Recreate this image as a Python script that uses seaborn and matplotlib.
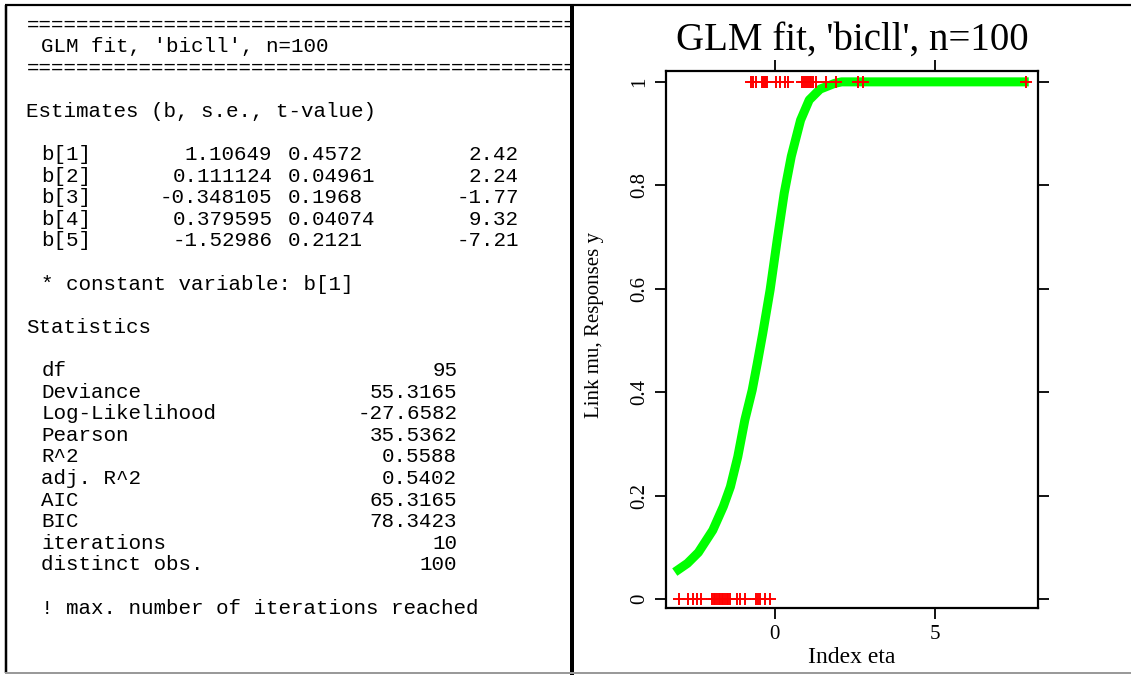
import matplotlib
matplotlib.use("Agg")
import matplotlib.pyplot as plt
import seaborn as sns
from matplotlib.lines import Line2D

# ---------------- data ----------------
title = "GLM fit, 'bicll', n=100"

# fitted curve (index eta -> mu)
curve_eta = [-3.00, -2.72, -2.38, -1.93, -1.60, -1.38, -1.15, -0.93, -0.70, -0.54,
             -0.37, -0.14, 0.08, 0.30, 0.52, 0.81, 1.08, 1.42, 1.87, 2.09, 7.79]
curve_mu = [0.057, 0.069, 0.090, 0.133, 0.179, 0.217, 0.275, 0.346, 0.404, 0.456,
            0.514, 0.598, 0.694, 0.785, 0.856, 0.926, 0.965, 0.986, 0.997, 1.000, 1.000]

# observed responses (eta positions of y=1 and y=0)
obs_eta_y1 = [-0.73, -0.66, -0.57, -0.40, -0.37, -0.34, -0.31, -0.28, -0.25, 0.03,
              0.16, 0.31, 0.42, 0.86, 0.91, 0.99, 1.04, 1.09, 1.15, 1.20, 1.30,
              1.61, 1.91, 2.60, 2.76, 7.83]
obs_eta_y0 = [-2.97, -2.71, -2.55, -2.43, -2.29, -1.95, -1.90, -1.85, -1.80, -1.75,
              -1.70, -1.65, -1.60, -1.55, -1.50, -1.45, -1.40, -1.18, -1.09, -0.94,
              -0.59, -0.53, -0.47, -0.31, -0.13]

x_ticks = [0, 5]
y_ticks = [0, 0.2, 0.4, 0.6, 0.8, 1]
y_ticklabels = ["0", "0.2", "0.4", "0.6", "0.8", "1"]
x_label = "Index eta"
y_label = "Link mu, Responses y"

coef_names = ["b[1]", "b[2]", "b[3]", "b[4]", "b[5]"]
coef_est = ["1.10649", "0.111124", "-0.348105", "0.379595", "-1.52986"]
coef_se = ["0.4572", "0.04961", "0.1968", "0.04074", "0.2121"]
coef_t = ["2.42", "2.24", "-1.77", "9.32", "-7.21"]

stat_names = ["df", "Deviance", "Log-Likelihood", "Pearson", "R^2", "adj. R^2",
              "AIC", "BIC", "iterations", "distinct obs."]
stat_values = ["95", "55.3165", "-27.6582", "35.5362", "0.5588", "0.5402",
               "65.3165", "78.3423", "10", "100"]

sentences = {
    1: (1, title),
    4: (0, "Estimates (b, s.e., t-value)"),
    12: (1, "* constant variable: b[1]"),
    14: (0, "Statistics"),
    27: (1, "! max. number of iterations reached"),
}

# ---------------- figure ----------------
W, H = 1131, 675
plt.rcParams["font.family"] = ["Liberation Serif", "DejaVu Serif"]
fig = plt.figure(figsize=(W / 100, H / 100), dpi=100)
fig.patch.set_facecolor("white")

# ---- left text panel ----
ax_t = fig.add_axes([0, 0, 570 / W, 1])
ax_t.set_xlim(0, 570)
ax_t.set_ylim(H, 0)
ax_t.axis("off")
X0, CW = 26.0, 15.4
MONO = dict(family="Liberation Mono", fontsize=15, va="baseline", clip_on=True)


def base(k):
    return 25 + 21.6 * k + 5.5


def col(c):
    return X0 + c * CW


for k in (0, 2):
    ax_t.text(col(0) + 1, base(k), "=" * 46, ha="left", **MONO)
for k, (c, s) in sentences.items():
    ax_t.text(col(c), base(k), s, ha="left", **MONO)
for i in range(len(coef_names)):
    k = 6 + i
    ax_t.text(col(1), base(k), coef_names[i], ha="left", **MONO)
    ax_t.text(col(16), base(k), coef_est[i], ha="right", **MONO)
    ax_t.text(col(17), base(k), coef_se[i], ha="left", **MONO)
    ax_t.text(col(32), base(k), coef_t[i], ha="right", **MONO)
for i in range(len(stat_names)):
    k = 16 + i
    ax_t.text(col(1), base(k), stat_names[i], ha="left", **MONO)
    ax_t.text(col(28), base(k), stat_values[i], ha="right", **MONO)


# ---- frame lines ----
def fline(x0, y0, x1, y1, lw, color):
    fig.add_artist(Line2D([x0 / W, x1 / W], [1 - y0 / H, 1 - y1 / H],
                          transform=fig.transFigure, lw=lw * 0.72, color=color,
                          solid_capstyle="butt"))


fline(5, 5, W, 5, 2.2, "black")
fline(6, 5, 6, 673, 2.5, "black")
fline(571.5, 5, 571.5, 675, 4, "black")
fline(5, 672.5, W, 672.5, 2, "#9a9a9a")

# ---- plot panel ----
ax = fig.add_axes([666 / W, (H - 608) / H, (1038 - 666) / W, (608 - 71) / H])
sns.lineplot(x=curve_eta, y=curve_mu, color="#00ff00", linewidth=6.5, ax=ax,
             sort=True, zorder=2)
obs_x = obs_eta_y1 + obs_eta_y0
obs_y = [1] * len(obs_eta_y1) + [0] * len(obs_eta_y0)
sns.scatterplot(x=obs_x, y=obs_y, marker="+", color="#ff0000", s=75,
                linewidth=1.4, ax=ax, zorder=3)

ax.set_xlim(-3.39, 8.22)
ax.set_ylim(-0.0174, 1.021)
ax.set_xticks(x_ticks)
ax.set_xticklabels([str(t) for t in x_ticks])
ax.set_yticks(y_ticks)
ax.set_yticklabels(y_ticklabels, rotation=90, va="center", ha="right")
ax.tick_params(direction="out", length=8, width=1.3, top=True, right=True,
               labeltop=False, labelright=False, labelsize=15, colors="black")
ax.tick_params(axis="x", pad=4)
ax.tick_params(axis="y", pad=4)
for sp in ax.spines.values():
    sp.set_linewidth(1.6)
    sp.set_color("black")
ax.set_facecolor("white")
ax.grid(False)

ax.set_title(title, fontsize=28, y=1 + 21 / 537, pad=0, va="baseline")
ax.set_xlabel(x_label, fontsize=17)
ax.xaxis.set_label_coords(0.5, (608 - 647) / 537)
ax.set_ylabel(y_label, fontsize=15)
ax.yaxis.set_label_coords((604 - 666) / 372, (608 - 325.5) / 537)

fig.savefig("out.png", dpi=100, facecolor="white")
